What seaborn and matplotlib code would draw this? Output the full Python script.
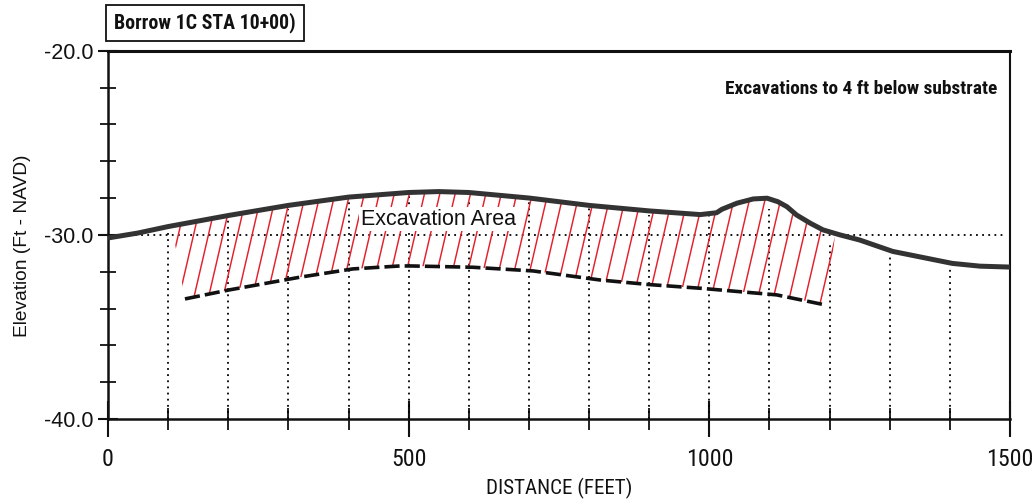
import numpy as np
import matplotlib
matplotlib.use("Agg")
import matplotlib.pyplot as plt
import seaborn as sns
from matplotlib import font_manager
from matplotlib.font_manager import FontProperties
from matplotlib.collections import LineCollection
from matplotlib.patches import Polygon

# ---------------- data ----------------
ground_x = [0, 50, 100, 200, 300, 400, 500, 550, 600, 700, 800, 900, 985,
            1012, 1021, 1046, 1073, 1096, 1114, 1129, 1145, 1168, 1189, 1217,
            1250, 1305, 1404, 1450, 1500]
ground_y = [-30.17, -29.9, -29.55, -28.95, -28.4, -27.95, -27.7, -27.65, -27.7,
            -28.0, -28.4, -28.7, -28.9, -28.8, -28.61, -28.28, -28.05, -28.01,
            -28.2, -28.47, -28.92, -29.37, -29.73, -30.0, -30.28, -30.9, -31.55,
            -31.7, -31.75]

excav_x = [128, 200, 319, 407, 485, 505, 607, 707, 818, 900, 985, 1112, 1192]
excav_y = [-33.48, -33.0, -32.3, -31.85, -31.69, -31.69, -31.76, -31.96, -32.45,
           -32.7, -32.9, -33.26, -33.8]

grid_x = [100, 200, 300, 400, 500, 600, 700, 800, 900, 1000, 1100, 1200, 1300, 1400]
grid_top = [-29.9, -29.0, -28.6, -28.2, -27.8, -28.0, -28.2, -28.5, -28.9, -28.85,
            -28.6, -30.35, -31.15, -31.8]

ref_level = -30.0
ref_span = [45, 1492]

xticks_major = [0, 500, 1000, 1500]
xtick_labels = ["0", "500", "1000", "1500"]
yticks_major = [-40, -30, -20]
ytick_labels = ["-40.0", "-30.0", "-20.0"]

title_text = "Borrow 1C STA 10+00)"
note_text = "Excavations to 4 ft below substrate"
area_text = "Excavation Area"
xlabel_text = "DISTANCE (FEET)"
ylabel_text = "Elevation (Ft - NAVD)"

# hatch region boundary (left / right edges of the hatched area)
hatch_left = [(106, None), (128, -33.48)]
hatch_right = [(1195, -33.85), (1208, -30.3)]

# ---------------- style ----------------
sns.set_theme(style="white")
names = {f.name for f in font_manager.fontManager.ttflist}
REG = "Liberation Sans" if "Liberation Sans" in names else "DejaVu Sans"
NARROW = REG
for cand in ["Liberation Sans Narrow", "Arial Narrow", "Roboto Condensed",
             "Open Sans Condensed", "Noto Sans Condensed", "Noto Sans SemiCondensed",
             "DejaVu Sans Condensed", "Open Sans SemiCondensed"]:
    if cand in names:
        NARROW = cand
        break
plt.rcParams["font.family"] = [REG, "DejaVu Sans"]

fig = plt.figure(figsize=(10.33, 5.03), dpi=100)
renderer = fig.canvas.get_renderer()


def fitted_size(text, family, weight, target_px, max_size):
    fp = FontProperties(family=family, weight=weight, size=10)
    w, _, _ = renderer.get_text_width_height_descent(text, fp, ismath=False)
    return min(max_size, 10 * target_px / w)


xt_size = fitted_size("500", NARROW, "normal", 35, 22)
xl_size = fitted_size(xlabel_text, NARROW, "normal", 146, 18)
title_size = fitted_size(title_text, NARROW, "bold", 182, 16)
note_size = fitted_size(note_text, NARROW, "bold", 272, 16)

ax = fig.add_axes([108 / 1033, 1 - 419 / 503, 902 / 1033, 368.3 / 503])
ax.set_xlim(0, 1500)
ax.set_ylim(-40, -20)

# dotted verticals & reference line
for gx, gt in zip(grid_x, grid_top):
    ax.plot([gx, gx], [-40, gt], color="black", lw=1.3, ls=(0, (1, 2.4)), zorder=1)
ax.plot(ref_span, [ref_level, ref_level], color="black", lw=1.3, ls=(0, (1, 2.4)), zorder=1)

# hatched excavation area (red diagonal lines clipped to region)
gx_arr = np.array(ground_x, float)
gy_arr = np.array(ground_y, float)
left_top_x = hatch_left[0][0]
xs_top = np.linspace(left_top_x, hatch_right[1][0], 400)
top_curve = np.interp(xs_top, gx_arr, gy_arr)
poly = [(left_top_x, np.interp(left_top_x, gx_arr, gy_arr))]
poly += list(zip(xs_top, top_curve))
poly += [hatch_right[1], hatch_right[0]]
poly += list(zip(excav_x[::-1], excav_y[::-1]))
poly += [hatch_left[1]]
clip = Polygon(poly, closed=True, transform=ax.transData, facecolor="none", edgecolor="none")
ax.add_patch(clip)

k = 7.1          # ft of run per ft of rise of each hatch line
spacing = 25.39
bottoms = np.arange(143 - 3 * spacing, 1200 + spacing, spacing)
segs = []
for xb in bottoms:
    yb = np.interp(xb, excav_x, excav_y)
    y0, y1 = yb - 3, yb + 8
    segs.append([(xb + k * (y0 - yb), y0), (xb + k * (y1 - yb), y1)])
lc = LineCollection(segs, colors="#e3202c", linewidths=1.05, zorder=2)
lc.set_clip_path(clip)
ax.add_collection(lc)

# excavation bottom (dashed) and ground profile
sns.lineplot(x=excav_x, y=excav_y, ax=ax, color="#111111", lw=2.6,
             linestyle=(0, (4.2, 1.4)), sort=False, zorder=3)
sns.lineplot(x=ground_x, y=ground_y, ax=ax, color="#333333", lw=3.6,
             sort=False, zorder=4, solid_capstyle="round")

# axes styling
for side, lw in [("left", 1.8), ("bottom", 1.8), ("top", 2.2), ("right", 1.5)]:
    ax.spines[side].set_visible(True)
    ax.spines[side].set_color("#111111")
    ax.spines[side].set_linewidth(lw)

ax.set_xticks(xticks_major)
ax.set_xticklabels(xtick_labels, fontfamily=NARROW, fontsize=xt_size)
ax.set_xticks(np.arange(0, 1501, 100), minor=True)
ax.set_yticks(yticks_major)
ax.set_yticklabels(ytick_labels, fontfamily=REG, fontsize=15.5)
ax.set_yticks(np.arange(-40, -19, 2), minor=True)
ax.tick_params(axis="x", which="major", direction="inout", length=26, width=1.5,
               color="#111111", pad=8, labelcolor="#111111")
ax.tick_params(axis="x", which="minor", direction="inout", length=16, width=1.3,
               color="#111111")
ax.tick_params(axis="y", which="major", direction="inout", length=15, width=1.5,
               color="#111111", pad=3, labelcolor="#111111")
ax.tick_params(axis="y", which="minor", direction="inout", length=12, width=1.3,
               color="#111111")
ax.tick_params(left=True, bottom=True, top=False, right=False)
ax.tick_params(which="minor", left=True, bottom=True, top=False, right=False)
ax.grid(False)

ax.set_xlabel(xlabel_text, fontfamily=NARROW, fontsize=xl_size, color="#111111")
ax.xaxis.set_label_coords(0.5, -0.16)
ax.set_ylabel(ylabel_text, fontfamily=REG, fontsize=13.8, color="#111111", va="center")
ax.yaxis.set_label_coords(-0.0953, 0.47)

ax.text(0.9856, 0.896, note_text, transform=ax.transAxes, ha="right", va="center",
        fontfamily=NARROW, fontweight="bold", fontsize=note_size, color="#111111")
ax.text(549, -29.15, area_text, ha="center", va="center", fontfamily=REG,
        fontsize=15.5, color="#111111", zorder=5,
        bbox=dict(boxstyle="square,pad=0.08", facecolor="white", edgecolor="none"))

fig.text(205 / 1033, 1 - 23 / 503, title_text, ha="center", va="center",
         fontfamily=NARROW, fontweight="bold", fontsize=title_size, color="#111111",
         bbox=dict(boxstyle="square,pad=0.4", facecolor="white",
                   edgecolor="#111111", linewidth=1.3))

fig.savefig("out.png", dpi=100, facecolor="white")
